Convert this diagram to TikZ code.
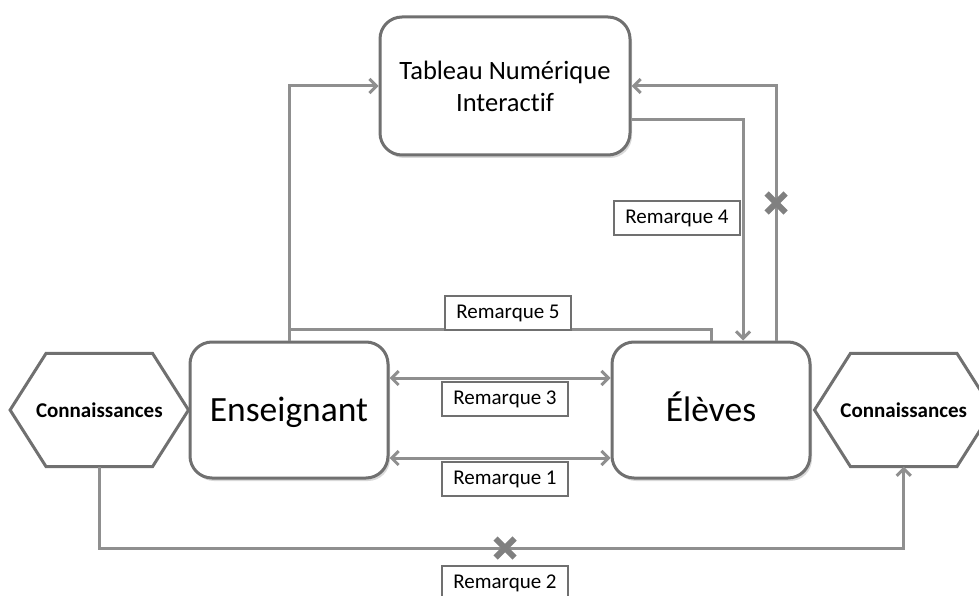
\documentclass[tikz,border=0pt]{standalone}
\usepackage{fontspec}
\setmainfont{Carlito}[Ligatures=NoCommon]
\usetikzlibrary{
        arrows.meta,
        positioning,
        shadows,
        shapes.misc
    }
\definecolor{linegray}{RGB}{143,143,143}
\definecolor{boxgray}{RGB}{112,112,112}
\definecolor{crossgray}{RGB}{128,128,128}
\tikzset{>={Straight Barb[length=7pt,width=14pt]}}
\tikzset{
  actor/.style={draw=boxgray,line width=3pt,rounded corners=22pt,fill=white,
    minimum width=198pt,minimum height=136pt,
    drop shadow={opacity=0.3,shadow xshift=2pt,shadow yshift=-3pt},
    font=\fontsize{35.5}{42}\selectfont},
  bigword/.style={text height=23pt,text depth=0pt},
  savoir/.style={minimum width=178pt,minimum height=113pt,inner sep=0pt,
    font=\bfseries\fontsize{21}{25}\selectfont},
  remark/.style={draw=boxgray,line width=2.5pt,fill=white,inner sep=0pt,
    minimum width=126pt,minimum height=34pt,font=\fontsize{21}{24}\selectfont},
  link/.style={draw=linegray,line width=3pt},
  blocked/.style={cross out,draw=crossgray,line width=6pt,minimum size=13pt,inner sep=0pt}
}
\newcommand\drawhex[1]{%
  \draw[draw=boxgray,line width=3pt] (#1.west) -- ([xshift=36pt]#1.north west)
    -- ([xshift=-36pt]#1.north east) -- (#1.east)
    -- ([xshift=-36pt]#1.south east) -- ([xshift=36pt]#1.south west) -- cycle;}

\begin{document}
\begin{tikzpicture}[x=1pt,y=-1pt]
    \clip (0,0) rectangle (979,596);
    \node[actor,align=center,minimum width=250pt,minimum height=138pt,
          font=\fontsize{26.5}{32}\selectfont] (tni) at (505,86) {Tableau Numérique\\Interactif};
    \node[actor,bigword] (ens)  at (289,410) {Enseignant};
    \node[actor,bigword] (elev) at (711,410) {Élèves};
    \node[savoir] (conL) [left=0pt of ens]   {Connaissances};
    \node[savoir] (conR) [right=3pt of elev] {Connaissances};
    \drawhex{conL}
    \drawhex{conR}

    % liaisons
    \path[link,->] (ens.north) |- (tni.west);
    \path[link] (ens.north) -- ++(0,-11) -| (elev.north);
    \path[link,->] ([yshift=-34pt]tni.east) -| ([xshift=32pt]elev.north);
    \path[link,->] ([xshift=65pt]elev.north) |- (tni.east);
    \path[link,<->] ([yshift=32pt]ens.east) -- ([yshift=32pt]elev.west);
    \path[link,<->] ([yshift=-48pt]ens.east) -- ([yshift=-48pt]elev.west);
    \path[link,->] (conL.south) -- ++(0,82) -| (conR.south);

    \node[blocked] (x1) at (776,203) {};
    \node[blocked] (x2) at (505,548) {};

    \node[remark] (r5) at (508,313) {Remarque 5};
    \node[remark] (r4) at (677,218) {Remarque 4};
    \node[remark] (r3) at (505,399) {Remarque 3};
    \node[remark] (r1) at (505,479) {Remarque 1};
    \node[remark] (r2) at (505,583) {Remarque 2};
\end{tikzpicture}
\end{document}
